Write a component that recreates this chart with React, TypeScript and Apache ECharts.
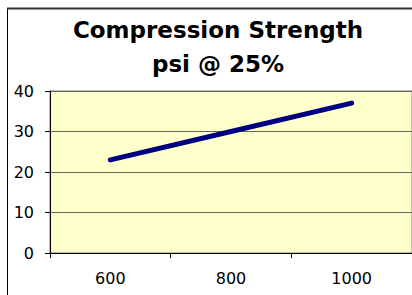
import React, { useEffect, useRef } from "react";
import * as echarts from "echarts";

const categories = ["600", "800", "1000"];
const strengthValues = [23, 30, 37];
const titleLines = ["Compression Strength", "psi @ 25%"];
const yTicks = { min: 0, max: 40, interval: 10 };

export default function App() {
  const ref = useRef<HTMLDivElement>(null);
  useEffect(() => {
    if (!ref.current) return;
    const chart = echarts.init(ref.current, null, { renderer: "svg" });
    chart.setOption({
      animation: false,
      backgroundColor: "#ffffff",
      title: {
        text: titleLines.join("\n"),
        left: 213,
        top: 8,
        textAlign: "center",
        textStyle: {
          fontFamily: "DejaVu Sans",
          fontWeight: "bold",
          fontSize: 23,
          lineHeight: 34,
          color: "#000000",
        },
      },
      graphic: [
        {
          type: "rect",
          shape: { x: 7.5, y: 8.5, width: 430, height: 310 },
          style: { fill: "none", stroke: "#000000", lineWidth: 1 },
          silent: true,
          z: 100,
        },
        {
          type: "line",
          shape: { x1: 7, y1: 8.5, x2: 420, y2: 8.5 },
          style: { stroke: "#333333", lineWidth: 2 },
          silent: true,
          z: 100,
        },
      ],
      grid: {
        left: 50,
        top: 91,
        right: -4,
        bottom: 42,
        show: true,
        backgroundColor: "#FFFFCC",
        borderColor: "#808080",
        borderWidth: 1,
      },
      xAxis: {
        type: "category",
        data: categories,
        boundaryGap: true,
        axisLine: { show: true, lineStyle: { color: "#000000", width: 1 } },
        axisTick: { show: true, inside: false, length: 5, lineStyle: { color: "#000000" } },
        axisLabel: {
          color: "#000000",
          fontFamily: "DejaVu Sans",
          fontSize: 16,
          margin: 17,
        },
        splitLine: { show: false },
      },
      yAxis: {
        type: "value",
        min: yTicks.min,
        max: yTicks.max,
        interval: yTicks.interval,
        axisLine: { show: true, lineStyle: { color: "#000000", width: 1 } },
        axisTick: { show: true, inside: false, length: 5, lineStyle: { color: "#000000" } },
        axisLabel: {
          color: "#000000",
          fontFamily: "DejaVu Sans",
          fontSize: 16,
          margin: 16,
        },
        splitLine: { show: true, lineStyle: { color: "#666655", width: 1 } },
      },
      series: [
        {
          type: "line",
          data: strengthValues,
          symbol: "none",
          lineStyle: { color: "#000080", width: 5, cap: "round" },
        },
      ],
    });
    return () => chart.dispose();
  }, []);
  return (
    <div
      ref={ref}
      style={{ position: "absolute", left: 0, top: 0, width: 412, height: 295 }}
    />
  );
}
